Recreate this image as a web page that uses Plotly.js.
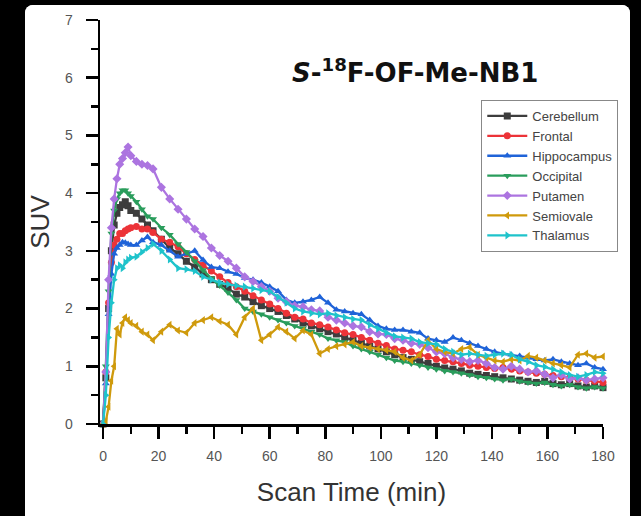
<!DOCTYPE html>
<html>
<head>
<meta charset="utf-8">
<script src="https://cdn.plot.ly/plotly-3.0.1.min.js"></script>
<style>
  html, body { margin: 0; padding: 0; background: #000; width: 641px; height: 516px; overflow: hidden; }
  #wrap { position: absolute; left: 25px; top: 5px; width: 605px; height: 520px; background: #fff; border-radius: 8px; overflow: hidden; }
  #chart { position: absolute; left: 0; top: 0; width: 605px; height: 511px; }
</style>
</head>
<body>
<div id="wrap"><div id="chart"></div></div>
<script>
const time = [0,1,2,3,4,5,6,7,8,9,10,12,14,16,18,
  21,24,27,30,33,36,39,42,45,48,51,54,57,60,63,66,69,72,75,78,81,84,87,90,93,96,99,102,105,108,111,114,117,120,
  123,126,129,132,135,138,141,144,147,150,153,156,159,162,165,168,171,174,177,180];

const cerebellum = [0,0.8,2.0,3.0,3.45,3.65,3.75,3.8,3.85,3.78,3.7,3.65,3.55,3.45,3.35,
  3.2,3.05,2.95,2.82,2.72,2.6,2.5,2.42,2.35,2.25,2.2,2.12,2.05,2.0,1.95,1.88,1.82,1.75,1.7,1.65,1.6,1.56,1.5,1.45,1.4,1.35,1.3,1.25,1.2,1.15,1.12,1.08,1.05,1.0,
  0.97,0.95,0.92,0.88,0.86,0.84,0.82,0.8,0.78,0.76,0.74,0.72,0.74,0.7,0.68,0.7,0.66,0.64,0.66,0.63];

const frontal = [0,0.9,2.1,2.8,3.1,3.2,3.3,3.3,3.35,3.38,3.4,3.42,3.38,3.38,3.32,
  3.2,3.15,3.07,2.95,2.85,2.75,2.65,2.55,2.45,2.38,2.3,2.22,2.15,2.08,2.0,1.92,1.85,1.82,1.75,1.72,1.68,1.63,1.58,1.55,1.5,1.45,1.4,1.36,1.3,1.28,1.25,1.2,1.17,1.12,
  1.1,1.08,1.05,1.02,1.0,0.98,0.96,0.98,0.95,0.92,0.9,0.88,0.86,0.84,0.82,0.8,0.78,0.76,0.74,0.72];

const hippocampus = [0,0.7,1.9,2.6,2.95,3.05,3.1,3.15,3.14,3.12,3.1,3.1,3.18,3.24,3.15,
  3.1,3.0,2.9,2.95,3.0,2.84,2.72,2.7,2.64,2.6,2.53,2.5,2.45,2.38,2.3,2.15,2.1,2.12,2.15,2.2,2.1,1.98,1.95,1.92,1.9,1.8,1.7,1.65,1.63,1.63,1.6,1.58,1.48,1.45,
  1.42,1.5,1.45,1.4,1.35,1.3,1.25,1.22,1.2,1.18,1.15,1.12,1.1,1.12,1.08,1.05,1.02,1.05,0.98,0.95];

const occipital = [0,1.0,2.3,3.3,3.7,3.9,4.0,4.05,4.05,4.0,3.95,3.85,3.72,3.6,3.55,
  3.4,3.28,3.12,2.98,2.82,2.67,2.52,2.4,2.28,2.15,2.0,1.95,1.9,1.85,1.8,1.75,1.7,1.66,1.6,1.55,1.48,1.45,1.42,1.35,1.3,1.25,1.2,1.15,1.1,1.08,1.05,1.02,0.98,0.95,
  0.92,0.9,0.88,0.85,0.82,0.8,0.78,0.76,0.78,0.74,0.72,0.7,0.72,0.68,0.66,0.68,0.64,0.62,0.64,0.62];

const putamen = [0,0.9,2.5,3.4,3.9,4.25,4.5,4.6,4.7,4.8,4.65,4.55,4.5,4.48,4.42,
  4.1,3.9,3.72,3.55,3.38,3.25,3.05,2.92,2.82,2.7,2.55,2.47,2.38,2.3,2.18,2.12,2.05,2.03,1.98,1.96,1.85,1.8,1.75,1.7,1.68,1.6,1.56,1.55,1.48,1.45,1.4,1.38,1.32,1.25,
  1.22,1.15,1.12,1.08,1.1,1.05,0.98,0.95,1.0,0.95,0.9,0.92,0.86,0.8,0.85,0.78,0.8,0.76,0.78,0.8];

const semiovale = [0,0.05,0.3,0.75,1.0,1.65,1.55,1.75,1.85,1.8,1.75,1.7,1.6,1.55,1.45,
  1.6,1.72,1.62,1.58,1.75,1.8,1.85,1.78,1.72,1.55,1.85,2.0,1.45,1.55,1.68,1.6,1.48,1.62,1.55,1.22,1.3,1.35,1.38,1.42,1.35,1.32,1.3,1.28,1.25,1.15,1.1,1.2,1.45,1.3,
  1.25,1.22,1.3,1.33,1.2,1.15,1.1,1.08,1.12,1.1,1.18,1.15,1.1,1.05,1.02,0.98,1.2,1.22,1.15,1.17];

const thalamus = [0,0.5,1.5,2.1,2.5,2.7,2.75,2.7,2.8,2.85,2.88,2.9,2.98,3.05,3.12,
  3.0,2.85,2.7,2.68,2.65,2.55,2.5,2.45,2.42,2.4,2.38,2.35,2.32,2.3,2.2,2.1,2.0,1.95,1.92,1.9,1.92,1.88,1.85,1.82,1.8,1.72,1.65,1.58,1.52,1.5,1.48,1.42,1.4,1.38,
  1.3,1.25,1.2,1.22,1.2,1.18,1.2,1.22,1.2,1.12,1.08,1.02,0.99,0.95,0.9,0.85,0.82,0.85,0.9,0.88];

const seriesNames = ["Cerebellum","Frontal","Hippocampus","Occipital","Putamen","Semiovale","Thalamus"];
const seriesValues = [cerebellum, frontal, hippocampus, occipital, putamen, semiovale, thalamus];
const seriesColors = ["#3d3d3d","#ec3338","#1f63d8","#2a9d5c","#ac74e0","#cf9a0c","#1fc3cb"];
const seriesSymbols = ["square","circle","triangle-up","triangle-down","diamond","triangle-left","triangle-right"];

const traces = seriesNames.map((name, i) => ({
  type: "scatter",
  mode: "lines+markers",
  name: name,
  x: time,
  y: seriesValues[i],
  line: { color: seriesColors[i], width: 2.3 },
  marker: { color: seriesColors[i], symbol: seriesSymbols[i], size: 7 },
  cliponaxis: false
}));

const tickFont = { family: "Liberation Sans, Arial, sans-serif", size: 14, color: "#555" };
const titleFont = { family: "Liberation Sans, Arial, sans-serif", size: 26, color: "#333" };

const layout = {
  width: 605,
  height: 511,
  margin: { l: 75, r: 22, t: 15, b: 92 },
  paper_bgcolor: "#fff",
  plot_bgcolor: "#fff",
  showlegend: true,
  xaxis: {
    range: [-1.1, 180],
    tickmode: "linear", tick0: 0, dtick: 20,
    ticks: "outside", ticklen: 12, tickwidth: 2.5, tickcolor: "#000",
    minor: { tick0: 0, dtick: 10, ticks: "outside", ticklen: 7, tickwidth: 2.5, tickcolor: "#000", showgrid: false },
    ticklabelstandoff: 6,
    showline: true, linecolor: "#000", linewidth: 2.5,
    showgrid: false, zeroline: false,
    tickfont: tickFont,
    title: { text: "Scan Time (min)", font: titleFont, standoff: 20 }
  },
  yaxis: {
    range: [0, 7],
    tickmode: "linear", tick0: 0, dtick: 1,
    ticks: "outside", ticklen: 12, tickwidth: 2.5, tickcolor: "#000",
    minor: { tick0: 0, dtick: 0.5, ticks: "outside", ticklen: 7, tickwidth: 2.5, tickcolor: "#000", showgrid: false },
    ticklabelstandoff: 10,
    showline: true, linecolor: "#000", linewidth: 2.5,
    showgrid: false, zeroline: false,
    tickfont: tickFont,
    title: { text: "SUV", font: titleFont, standoff: 10 }
  },
  legend: {
    x: 0.758, y: 0.802, xanchor: "left", yanchor: "top",
    bgcolor: "#fff", bordercolor: "#888", borderwidth: 1,
    font: { family: "Liberation Sans, Arial, sans-serif", size: 13, color: "#444" },
    itemwidth: 40,
    tracegroupgap: 0
  },
  annotations: [{
    text: "<b><i>S</i>-<sup>18</sup>F-OF-Me-NB1</b>",
    xref: "paper", yref: "paper", x: 0.627, y: 0.874,
    xanchor: "center", yanchor: "middle", showarrow: false,
    font: { family: "DejaVu Sans, sans-serif", size: 26, color: "#111" }
  }]
};

Plotly.newPlot("chart", traces, layout, { displayModeBar: false, staticPlot: true });
</script>
</body>
</html>
